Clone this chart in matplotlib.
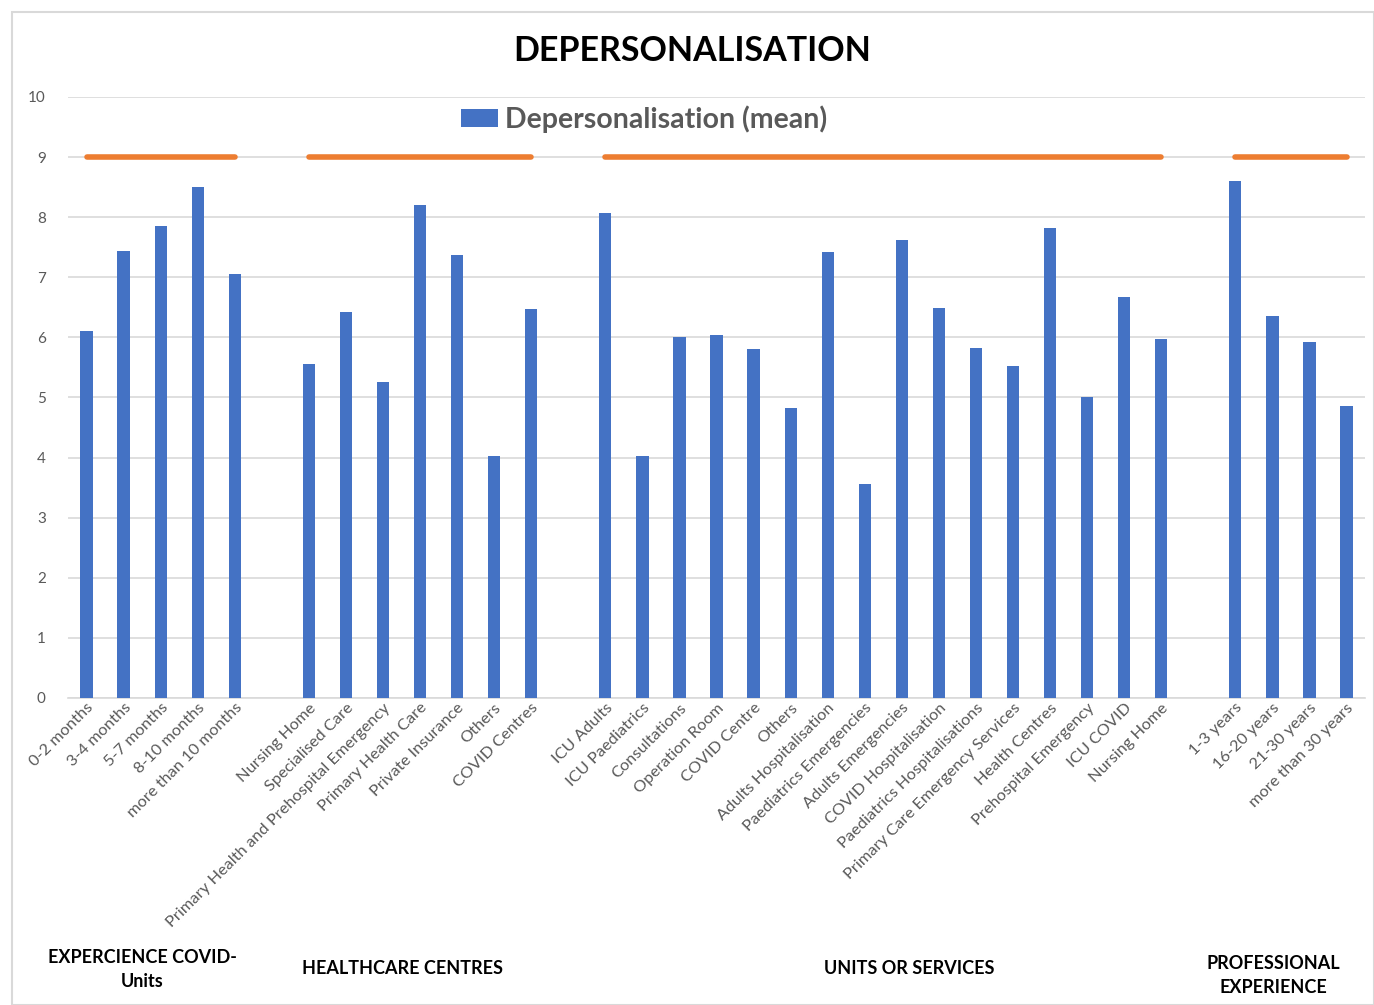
import numpy as np
import matplotlib.pyplot as plt
from matplotlib.patches import Rectangle

plt.rcParams['font.family'] = ['Lato', 'DejaVu Sans']

# data
experience_covid = ['0-2 months', '3-4 months', '5-7 months', '8-10 months', 'more than 10 months']
experience_covid_vals = [6.11, 7.44, 7.85, 8.50, 7.05]

centres = ['Nursing Home', 'Specialised Care', 'Primary Health and Prehospital Emergency',
           'Primary Health Care', 'Private Insurance', 'Others', 'COVID Centres']
centres_vals = [5.56, 6.42, 5.26, 8.20, 7.37, 4.03, 6.47]

units = ['ICU Adults', 'ICU Paediatrics', 'Consultations', 'Operation Room', 'COVID Centre',
         'Others', 'Adults Hospitalisation', 'Paediatrics Emergencies', 'Adults Emergencies',
         'COVID Hospitalisation', 'Paediatrics Hospitalisations', 'Primary Care Emergency Services',
         'Health Centres', 'Prehospital Emergency', 'ICU COVID', 'Nursing Home']
units_vals = [8.07, 4.03, 6.01, 6.04, 5.81, 4.83, 7.42, 3.56, 7.62, 6.49, 5.82, 5.52,
              7.82, 5.01, 6.67, 5.97]

prof_exp = ['1-3 years', '16-20 years', '21-30 years', 'more than 30 years']
prof_exp_vals = [8.60, 6.36, 5.92, 4.86]

ref_level = 9

groups = [(experience_covid, experience_covid_vals), (centres, centres_vals),
          (units, units_vals), (prof_exp, prof_exp_vals)]

labels, values, ref = [], [], []
for i, (cats, vals) in enumerate(groups):
    if i > 0:
        labels.append('')
        values.append(np.nan)
        ref.append(np.nan)
    labels += cats
    values += vals
    ref += [ref_level] * len(cats)

x = np.arange(len(labels))

fig = plt.figure(figsize=(13.74, 10.05), dpi=100)
ax = fig.add_axes([0.0495, 0.3055, 0.944, 0.598])

ax.bar(x, values, width=0.33, color='#4472C4', label='Depersonalisation (mean)', zorder=3)
ax.plot(x, ref, color='#ED7D31', lw=4, solid_capstyle='round', zorder=4)

ax.set_xlim(-0.5, len(labels) - 0.5)
ax.set_ylim(0, 10)
ax.set_yticks(range(0, 11))
ax.grid(axis='y', color='#D9D9D9', lw=1.2, zorder=0)
ax.tick_params(axis='y', length=0, labelsize=11, labelcolor='#595959', pad=16)
ax.tick_params(axis='x', length=0, labelsize=11.8, labelcolor='#595959', pad=2)
ax.set_xticks(x)
ax.set_xticklabels(labels, rotation=45, ha='right', rotation_mode='anchor')
for s in ['top', 'right', 'left']:
    ax.spines[s].set_visible(False)
ax.spines['bottom'].set_color('#D9D9D9')
ax.spines['bottom'].set_linewidth(1.2)

leg = ax.legend(loc='upper center', bbox_to_anchor=(0.444, 1.028), frameon=False,
                fontsize=20.5, handlelength=1.3, handleheight=0.6, handletextpad=0.25)
for t in leg.get_texts():
    t.set_color('#595959')
    t.set_fontweight('bold')

fig.text(0.504, 0.949, 'DEPERSONALISATION', ha='center', va='center',
         fontsize=24.5, fontweight='bold')

grp_kw = dict(ha='center', va='center', fontsize=13, fontweight='bold', linespacing=1.5)
fig.text(142 / 1374, 1 - 969 / 1005, 'EXPERCIENCE COVID-\nUnits', **grp_kw)
fig.text(403 / 1374, 1 - 968 / 1005, 'HEALTHCARE CENTRES', **grp_kw)
fig.text(909 / 1374, 1 - 968 / 1005, 'UNITS OR SERVICES', **grp_kw)
fig.text(1273 / 1374, 1 - 975 / 1005, 'PROFESSIONAL\nEXPERIENCE', **grp_kw)

fig.patches.append(Rectangle((12 / 1374, 0), 1 - 12 / 1374, 1 - 12 / 1005,
                             transform=fig.transFigure, fill=False,
                             edgecolor='#D9D9D9', lw=1.5))

fig.savefig('out.png', dpi=100)
